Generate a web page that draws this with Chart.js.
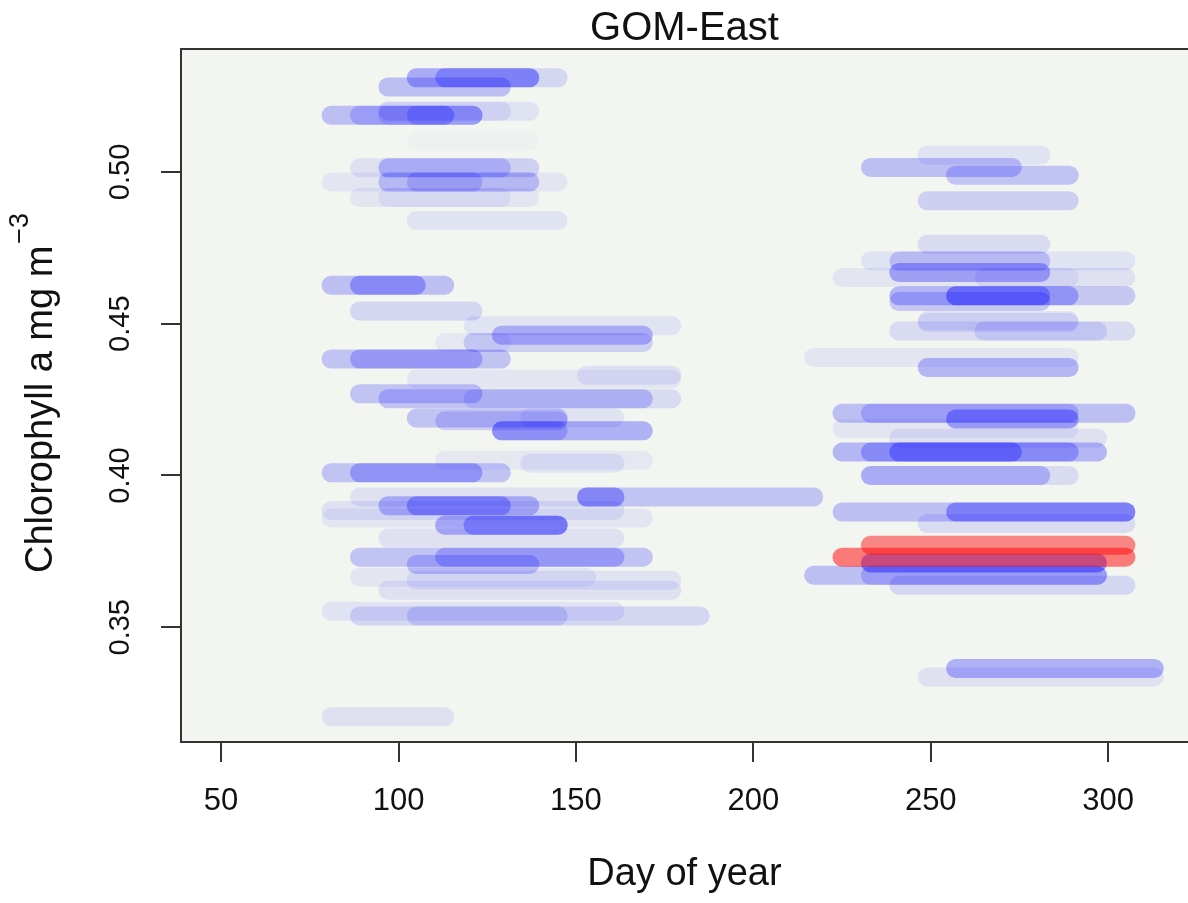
<!DOCTYPE html>
<html>
<head>
<meta charset="utf-8">
<script src="https://cdn.jsdelivr.net/npm/chart.js@4.4.1/dist/chart.umd.min.js"></script>
<style>
  html, body { margin: 0; padding: 0; background: #fff; }
  #wrap { width: 1188px; height: 903px; }
</style>
</head>
<body>
<div id="wrap"><canvas id="chl" width="1188" height="903"></canvas></div>
<script>
// Blue segments: start day, end day, chlorophyll value, weight (opacity)
const startDay = [
  105, 105, 113, 97, 97, 97, 81, 89, 97, 105, 105, 89, 97, 97, 81, 97, 105, 89, 97, 105,
  81, 89, 89, 121, 129, 121, 113, 81, 89, 105, 153, 89, 97, 121, 105, 113, 137, 129, 129, 113,
  137, 81, 89, 153, 153, 89, 97, 105, 81, 81, 113, 121, 97, 89, 113, 105, 89, 105, 97, 81,
  89, 105, 81,
  249, 233, 257, 249, 249, 233, 241, 241, 225, 265, 241, 257, 257, 241, 249, 249, 241, 265, 217, 249,
  225, 233, 257, 225, 241, 225, 233, 241, 233, 233, 225, 257, 249, 233, 217, 233, 241, 257, 249
];
const endDay = [
  145, 137, 137, 129, 137, 129, 121, 121, 113, 113, 137, 129, 137, 129, 145, 137, 121, 137, 129, 145,
  113, 105, 121, 177, 169, 169, 129, 129, 121, 177, 177, 121, 169, 177, 145, 145, 161, 169, 145, 169,
  161, 129, 121, 217, 161, 161, 137, 129, 161, 169, 145, 145, 161, 169, 161, 137, 153, 177, 177, 161,
  185, 145, 113,
  281, 273, 289, 289, 281, 305, 281, 281, 289, 305, 289, 305, 281, 281, 289, 289, 305, 297, 289, 289,
  305, 289, 289, 289, 297, 297, 289, 273, 281, 289, 305, 305, 305, 297, 297, 297, 305, 313, 313
];
const chlValue = [
  0.531, 0.531, 0.531, 0.528, 0.520, 0.520, 0.5187, 0.5187, 0.5187, 0.5187, 0.510, 0.5014, 0.5014, 0.5014, 0.4967, 0.4967, 0.4967, 0.4916, 0.4916, 0.484,
  0.4627, 0.4627, 0.4542, 0.4493, 0.4462, 0.4438, 0.4438, 0.4384, 0.4384, 0.4318, 0.433, 0.4269, 0.4253, 0.4253, 0.4189, 0.418, 0.419, 0.4147, 0.4147, 0.405,
  0.404, 0.4009, 0.4009, 0.3929, 0.3929, 0.3929, 0.390, 0.390, 0.3885, 0.386, 0.3836, 0.3836, 0.3794, 0.3731, 0.3731, 0.3707, 0.3665, 0.3655, 0.3622, 0.3553,
  0.3537, 0.3537, 0.3205,
  0.5055, 0.5015, 0.4989, 0.4905, 0.4762, 0.4707, 0.4707, 0.4669, 0.4652, 0.4652, 0.4592, 0.4592, 0.4592, 0.4573, 0.451, 0.4504, 0.4476, 0.4476, 0.4389, 0.4356,
  0.4205, 0.4205, 0.4186, 0.4154, 0.4123, 0.4077, 0.4077, 0.4077, 0.400, 0.400, 0.388, 0.388, 0.3842, 0.3712, 0.3671, 0.3671, 0.3638, 0.3364, 0.3336
];
const weight = [
  0.12, 0.2, 0.25, 0.22, 0.07, 0.08, 0.22, 0.18, 0.1, 0.18, 0.015, 0.08, 0.15, 0.1, 0.06, 0.2, 0.15, 0.06, 0.06, 0.07,
  0.22, 0.28, 0.12, 0.07, 0.25, 0.15, 0.05, 0.2, 0.22, 0.06, 0.08, 0.2, 0.2, 0.1, 0.2, 0.15, 0.07, 0.28, 0.18, 0.05,
  0.07, 0.2, 0.25, 0.2, 0.25, 0.08, 0.25, 0.28, 0.08, 0.06, 0.28, 0.28, 0.08, 0.2, 0.22, 0.2, 0.06, 0.07, 0.08, 0.07,
  0.12, 0.12, 0.08,
  0.07, 0.22, 0.2, 0.15, 0.1, 0.07, 0.18, 0.3, 0.06, 0.08, 0.26, 0.18, 0.28, 0.18, 0.08, 0.08, 0.1, 0.1, 0.06, 0.25,
  0.22, 0.18, 0.33, 0.06, 0.08, 0.25, 0.25, 0.3, 0.22, 0.1, 0.22, 0.33, 0.1, 0.4, 0.22, 0.18, 0.12, 0.28, 0.08
];

// Red (highlighted) segments
const redStart = [233, 225];
const redEnd = [305, 305];
const redValue = [0.377, 0.3731];
const redWeight = [0.45, 0.5];

const xTicks = [50, 100, 150, 200, 250, 300];
const yTicks = [0.35, 0.40, 0.45, 0.50];

const FONT = '"Liberation Sans", Arial, sans-serif';
const PLOT_BG = '#f2f5f0';

function segment(s, e, v, w, rgb, order) {
  return {
    type: 'line',
    data: [{ x: s, y: v }, { x: e, y: v }],
    borderColor: 'rgba(' + rgb + ',' + w + ')',
    borderWidth: 19,
    borderCapStyle: 'round',
    pointRadius: 0,
    pointHoverRadius: 0,
    fill: false,
    order: order
  };
}

const datasets = [];
redStart.forEach((s, i) => datasets.push(segment(s, redEnd[i], redValue[i], redWeight[i], '255,0,0', 0)));
startDay.forEach((s, i) => datasets.push(segment(s, endDay[i], chlValue[i], weight[i], '0,0,255', 1)));

const framePlugin = {
  id: 'frame',
  beforeDraw(chart) {
    const { ctx, chartArea: a } = chart;
    ctx.save();
    ctx.fillStyle = '#ffffff';
    ctx.fillRect(0, 0, chart.width, chart.height);
    ctx.fillStyle = PLOT_BG;
    ctx.fillRect(a.left, a.top, a.right - a.left, a.bottom - a.top);
    ctx.restore();
  },
  afterDraw(chart) {
    const { ctx, chartArea: a } = chart;
    ctx.save();
    // box (left, top, bottom)
    ctx.strokeStyle = '#333';
    ctx.lineWidth = 2;
    ctx.beginPath();
    ctx.moveTo(a.right + 2, a.top);
    ctx.lineTo(a.left, a.top);
    ctx.lineTo(a.left, a.bottom);
    ctx.lineTo(a.right + 2, a.bottom);
    ctx.stroke();

    ctx.fillStyle = '#111';
    ctx.textAlign = 'center';
    ctx.textBaseline = 'alphabetic';
    const cx = (a.left + a.right) / 2;
    ctx.font = '40px ' + FONT;
    ctx.fillText('GOM-East', cx, 40);
    ctx.font = '38px ' + FONT;
    ctx.fillText('Day of year', cx, 885);

    // y axis title with superscript
    ctx.translate(52, 573);
    ctx.rotate(-Math.PI / 2);
    ctx.textAlign = 'left';
    const main = 'Chlorophyll a mg m';
    ctx.fillText(main, 0, 0);
    const w = ctx.measureText(main).width;
    ctx.font = '27px ' + FONT;
    ctx.fillText('\u22123', w + 2, -24);
    ctx.restore();
  }
};

new Chart(document.getElementById('chl'), {
  type: 'line',
  data: { datasets },
  options: {
    responsive: false,
    animation: false,
    devicePixelRatio: 1,
    layout: { padding: { top: 49, right: 0, left: 0, bottom: 0 } },
    plugins: {
      legend: { display: false },
      title: { display: false },
      tooltip: { enabled: false }
    },
    scales: {
      x: {
        type: 'linear',
        min: 38.7,
        max: 322.5,
        afterBuildTicks: s => { s.ticks = xTicks.map(v => ({ value: v })); },
        afterFit: s => { s.height = 161; },
        border: { display: false },
        grid: { drawOnChartArea: false, drawTicks: true, tickLength: 20, lineWidth: 2, color: '#333' },
        ticks: {
          color: '#111',
          font: { family: FONT, size: 31 },
          padding: 21,
          minRotation: 0,
          maxRotation: 0,
          autoSkip: false
        }
      },
      y: {
        type: 'linear',
        min: 0.3122,
        max: 0.5405,
        afterBuildTicks: s => { s.ticks = yTicks.map(v => ({ value: v })); },
        afterFit: s => { s.width = 181; },
        border: { display: false },
        grid: { drawOnChartArea: false, drawTicks: true, tickLength: 20, lineWidth: 2, color: '#333' },
        ticks: {
          color: '#111',
          font: { family: FONT, size: 29 },
          padding: 12,
          minRotation: 90,
          maxRotation: 90,
          crossAlign: 'center',
          autoSkip: false,
          callback: v => v.toFixed(2)
        }
      }
    }
  },
  plugins: [framePlugin]
});
</script>
</body>
</html>
